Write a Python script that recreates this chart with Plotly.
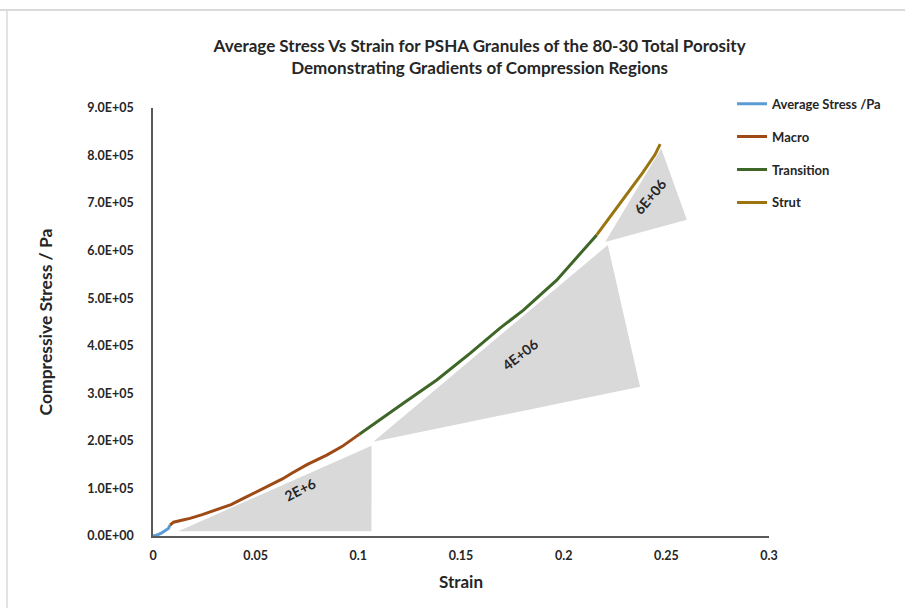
import plotly.graph_objects as go

# ---- data ----
avg_strain = [0.0, 0.002, 0.004, 0.006, 0.0075, 0.0083]
avg_stress = [0, 2.0e3, 6.0e3, 1.1e4, 1.6e4, 2.3e4]

macro_strain = [0.0083, 0.010, 0.014, 0.018, 0.024, 0.031, 0.038, 0.044, 0.050,
                0.057, 0.063, 0.068, 0.075, 0.0846, 0.092, 0.0992, 0.1005]
macro_stress = [2.3e4, 2.9e4, 3.3e4, 3.7e4, 4.5e4, 5.5e4, 6.6e4, 7.9e4, 9.2e4,
                1.07e5, 1.20e5, 1.33e5, 1.50e5, 1.70e5, 1.88e5, 2.10e5, 2.14e5]

transition_strain = [0.1005, 0.1057, 0.1097, 0.1219, 0.1382, 0.1544, 0.169,
                     0.1804, 0.1966, 0.2129, 0.2161]
transition_stress = [2.14e5, 2.30e5, 2.41e5, 2.79e5, 3.28e5, 3.84e5, 4.37e5,
                     4.75e5, 5.38e5, 6.16e5, 6.33e5]

strut_strain = [0.2161, 0.222, 0.2275, 0.233, 0.2385, 0.2445, 0.247]
strut_stress = [6.33e5, 6.67e5, 6.98e5, 7.31e5, 7.64e5, 8.02e5, 8.24e5]

# gradient triangles (strain, stress vertices) and their labels
tri_macro_x = [0.0123, 0.1064, 0.1064]
tri_macro_y = [1.0e4, 1.0e4, 1.9e5]
tri_trans_x = [0.1073, 0.2215, 0.2372]
tri_trans_y = [1.98e5, 6.12e5, 3.14e5]
tri_strut_x = [0.2202, 0.2475, 0.2600]
tri_strut_y = [6.18e5, 8.15e5, 6.65e5]
grad_labels = ["2E+6", "4E+06", "6E+06"]
grad_label_x = [0.0716, 0.1788, 0.2421]
grad_label_y = [9.7e4, 3.81e5, 7.13e5]
grad_label_angle = [-27, -38, -50]

y_tickvals = [0, 1e5, 2e5, 3e5, 4e5, 5e5, 6e5, 7e5, 8e5, 9e5]
y_ticktext = ["0.0E+00", "1.0E+05", "2.0E+05", "3.0E+05", "4.0E+05",
              "5.0E+05", "6.0E+05", "7.0E+05", "8.0E+05", "9.0E+05"]
x_tickvals = [0, 0.05, 0.1, 0.15, 0.2, 0.25, 0.3]
x_ticktext = ["0", "0.05", "0.1", "0.15", "0.2", "0.25", "0.3"]

FONT = "Lato"
TXT = "#262626"

fig = go.Figure()

for tx, ty in [(tri_macro_x, tri_macro_y), (tri_trans_x, tri_trans_y), (tri_strut_x, tri_strut_y)]:
    fig.add_trace(go.Scatter(x=tx + [tx[0]], y=ty + [ty[0]], mode="lines", fill="toself",
                             fillcolor="#D9D9D9", line=dict(width=0, color="#D9D9D9"),
                             showlegend=False, hoverinfo="skip"))

series = [
    ("Average Stress /Pa", avg_strain, avg_stress, "#5B9BD5"),
    ("Macro", macro_strain, macro_stress, "#9E4A16"),
    ("Transition", transition_strain, transition_stress, "#3E6626"),
    ("Strut", strut_strain, strut_stress, "#9A7410"),
]
for i, (name, xs, ys, col) in enumerate(series):
    fig.add_trace(go.Scatter(x=xs, y=ys, mode="lines", name=name, legendgroup=f"g{i}",
                             line=dict(color=col, width=3)))

for t, x, y, a in zip(grad_labels, grad_label_x, grad_label_y, grad_label_angle):
    fig.add_annotation(x=x, y=y, text=t, showarrow=False, textangle=a,
                       font=dict(family=FONT, size=14, color=TXT, weight="bold"))

# spreadsheet frame lines
fig.add_shape(type="line", xref="paper", yref="paper", x0=-0.25, x1=1.25, y0=1.229, y1=1.229,
              line=dict(color="#DADADA", width=2))
fig.add_shape(type="line", xref="paper", yref="paper", x0=-0.237, x1=-0.237, y0=1.229, y1=-0.2,
              line=dict(color="#DADADA", width=1.5))

fig.update_layout(
    width=905, height=608,
    margin=dict(l=153, r=136, t=108, b=72),
    paper_bgcolor="white", plot_bgcolor="white",
    font=dict(family=FONT, color=TXT),
    title=dict(text="Average Stress Vs Strain for PSHA Granules of the 80-30 Total Porosity<br>"
                    "Demonstrating Gradients of Compression Regions",
               x=0.530, xanchor="center", y=0.915, yanchor="middle",
               font=dict(family=FONT, size=17, color=TXT, weight="bold")),
    legend=dict(x=0.94, y=1.045, xanchor="left", yanchor="top", tracegroupgap=13,
                font=dict(family=FONT, size=13, color=TXT, weight="bold"), bgcolor="rgba(0,0,0,0)",
                itemwidth=30),
    showlegend=True,
)
fig.update_xaxes(range=[0, 0.3], tickvals=x_tickvals, ticktext=x_ticktext,
                 showgrid=False, zeroline=False, showline=True, linecolor="#595959", linewidth=1.5,
                 ticks="", ticklabelstandoff=7,
                 tickfont=dict(family=FONT, size=12.5, color=TXT, weight="bold"),
                 title=dict(text="Strain", font=dict(family=FONT, size=17, color=TXT, weight="bold"),
                            standoff=14))
fig.update_yaxes(range=[0, 9e5], tickvals=y_tickvals, ticktext=y_ticktext,
                 showgrid=False, zeroline=False, showline=True, linecolor="#595959", linewidth=1.5,
                 ticks="", ticklabelstandoff=15,
                 tickfont=dict(family=FONT, size=12.5, color=TXT, weight="bold"),
                 title=dict(text="Compressive Stress / Pa",
                            font=dict(family=FONT, size=17.5, color=TXT, weight="bold"),
                            standoff=30))

fig.write_html("out.html")
